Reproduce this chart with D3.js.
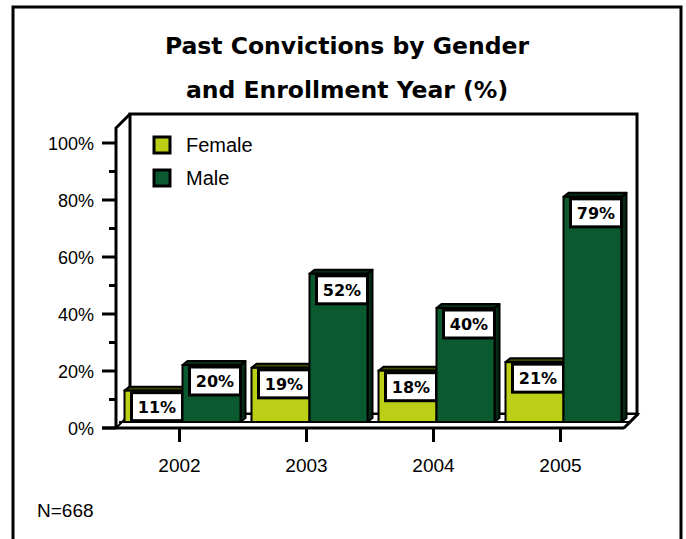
<!DOCTYPE html>
<html>
<head>
<meta charset="utf-8">
<script src="https://cdn.jsdelivr.net/npm/d3@7"></script>
<style>
  body { margin: 0; background: #fff; }
  svg { display: block; }
</style>
</head>
<body>
<div id="chart"></div>
<script>
// data
const years = ["2002", "2003", "2004", "2005"];
const female = [11, 19, 18, 21];
const male = [20, 52, 40, 79];
const seriesNames = ["Female", "Male"];
const yTickValues = [0, 20, 40, 60, 80, 100];
const yMinorTicks = [10, 30, 50, 70, 90];
const noteText = "N=668";

const width = 686;
const height = 539;

const colors = {
  Female: { front: "#bccf17", dark: "#3e4500" },
  Male: { front: "#0b5a2f", dark: "#062d14" }
};

const svg = d3.select("#chart")
  .append("svg")
  .attr("width", width).attr("height", height);

// outer frame (no bottom edge in the picture)
svg.append("path")
  .attr("d", "M13,560 L13,7 L681,7 L681,560")
  .attr("fill", "none").attr("stroke", "#000").attr("stroke-width", 3);

// title
const title = svg.append("text")
  .attr("text-anchor", "middle")
  .style("font-family", "'DejaVu Sans', Verdana, sans-serif")
  .style("font-weight", "bold")
  .style("font-size", "23.5px");
title.append("tspan").attr("x", 347).attr("y", 54).text("Past Convictions by Gender");
title.append("tspan").attr("x", 347).attr("y", 98).text("and Enrollment Year (%)");

// scales (front plane)
const x0 = d3.scaleBand().domain(years).range([116, 624]);
const y = d3.scaleLinear().domain([0, 100]).range([428, 143]);

// depth of the walls, offset of bars, depth of bars
const wall = { dx: 14, dy: -14 };
const barShift = { dx: 3, dy: -6 };
const barDepth = { dx: 5, dy: -4 };
const barW = 58;

const x1 = d3.scaleBand().domain(seriesNames).range([-barW, barW]);

// back wall
const wallTop = y(100) + wall.dy - 15;
svg.append("rect")
  .attr("x", 116 + wall.dx).attr("y", wallTop)
  .attr("width", 624 + wall.dx - (116 + wall.dx) - 1)
  .attr("height", y(0) + wall.dy - wallTop)
  .attr("fill", "#fff").attr("stroke", "#000").attr("stroke-width", 3);

// left side wall edge
svg.append("path")
  .attr("d", `M116,${y(0)} L116,${wallTop - wall.dy} L${116 + wall.dx},${wallTop}`)
  .attr("fill", "none").attr("stroke", "#000").attr("stroke-width", 3);

// floor
const floorTop = y(0) + barShift.dy;
svg.append("path")
  .attr("d", `M116,${y(0)} L${116 + wall.dx},${y(0) + wall.dy} L${624 + wall.dx},${y(0) + wall.dy} L624,${y(0)} Z`)
  .attr("fill", "#fff").attr("stroke", "#000").attr("stroke-width", 2);
svg.append("line")
  .attr("x1", 119).attr("x2", 630)
  .attr("y1", floorTop).attr("y2", floorTop)
  .attr("stroke", "#000").attr("stroke-width", 2);

// y axis ticks
svg.append("g").selectAll("line")
  .data(yTickValues).join("line")
  .attr("x1", 102).attr("x2", 116)
  .attr("y1", d => y(d)).attr("y2", d => y(d))
  .attr("stroke", "#000").attr("stroke-width", 3);
svg.append("g").selectAll("line")
  .data(yMinorTicks).join("line")
  .attr("x1", 109).attr("x2", 116)
  .attr("y1", d => y(d)).attr("y2", d => y(d))
  .attr("stroke", "#000").attr("stroke-width", 3);
svg.append("g").selectAll("text")
  .data(yTickValues).join("text")
  .attr("x", 94).attr("y", d => y(d)).attr("dy", "0.4em")
  .attr("text-anchor", "end")
  .style("font-family", "'Liberation Sans', Arial, sans-serif")
  .style("font-size", "18px")
  .text(d => d + "%");

// x axis line and ticks
svg.append("line")
  .attr("x1", 102).attr("x2", 624)
  .attr("y1", y(0)).attr("y2", y(0))
  .attr("stroke", "#000").attr("stroke-width", 3);
svg.append("line")
  .attr("x1", 624).attr("y1", y(0))
  .attr("x2", 624 + wall.dx).attr("y2", y(0) + wall.dy)
  .attr("stroke", "#000").attr("stroke-width", 3);
svg.append("g").selectAll("line")
  .data(years).join("line")
  .attr("x1", d => x0(d) + x0.bandwidth() / 2)
  .attr("x2", d => x0(d) + x0.bandwidth() / 2)
  .attr("y1", y(0)).attr("y2", y(0) + 14)
  .attr("stroke", "#000").attr("stroke-width", 3);
svg.append("g").selectAll("text")
  .data(years).join("text")
  .attr("x", d => x0(d) + x0.bandwidth() / 2)
  .attr("y", 472)
  .attr("text-anchor", "middle")
  .style("font-family", "'Liberation Sans', Arial, sans-serif")
  .style("font-size", "19px")
  .text(d => d);

// bars
const bars = [];
years.forEach((yr, i) => {
  bars.push({ year: yr, series: "Female", value: female[i] });
  bars.push({ year: yr, series: "Male", value: male[i] });
});

const yb = v => y(v) + barShift.dy;

const barG = svg.append("g")
  .selectAll("g")
  .data(bars)
  .join("g");

barG.each(function (d) {
  const g = d3.select(this);
  const l = x0(d.year) + x0.bandwidth() / 2 + barShift.dx + x1(d.series);
  const r = l + barW;
  const t = yb(d.value);
  const b = yb(0);
  const c = colors[d.series];
  // side face
  g.append("path")
    .attr("d", `M${r},${t} L${r + barDepth.dx},${t + barDepth.dy} L${r + barDepth.dx},${b + barDepth.dy} L${r},${b} Z`)
    .attr("fill", c.dark).attr("stroke", "#000").attr("stroke-width", 2)
    .attr("stroke-linejoin", "round");
  // top face
  g.append("path")
    .attr("d", `M${l},${t} L${l + barDepth.dx},${t + barDepth.dy} L${r + barDepth.dx},${t + barDepth.dy} L${r},${t} Z`)
    .attr("fill", c.dark).attr("stroke", "#000").attr("stroke-width", 2)
    .attr("stroke-linejoin", "round");
  // front face
  g.append("rect")
    .attr("x", l).attr("y", t)
    .attr("width", barW).attr("height", b - t)
    .attr("fill", c.front).attr("stroke", "#000").attr("stroke-width", 2);
  // value label box
  g.append("rect")
    .attr("x", l + 7).attr("y", t + 2)
    .attr("width", barW - 7).attr("height", 28)
    .attr("fill", "#fff").attr("stroke", "#000").attr("stroke-width", 3);
  g.append("text")
    .attr("x", l + 7 + (barW - 7) / 2).attr("y", t + 22)
    .attr("text-anchor", "middle")
    .style("font-family", "'DejaVu Sans', Verdana, sans-serif")
    .style("font-weight", "bold")
    .style("font-size", "16px")
    .text(d.value + "%");
});

// legend
const legend = svg.append("g")
  .selectAll("g")
  .data(seriesNames)
  .join("g")
  .attr("transform", (d, i) => `translate(154,${137 + i * 33})`);
legend.append("rect")
  .attr("width", 16).attr("height", 16)
  .attr("fill", d => colors[d].front)
  .attr("stroke", "#000").attr("stroke-width", 3);
legend.append("text")
  .attr("x", 32).attr("y", 15)
  .style("font-family", "'Liberation Sans', Arial, sans-serif")
  .style("font-size", "20px")
  .text(d => d);

// sample size note
svg.append("text")
  .attr("x", 37).attr("y", 517)
  .style("font-family", "'Liberation Sans', Arial, sans-serif")
  .style("font-size", "19px")
  .text(noteText);
</script>
</body>
</html>
